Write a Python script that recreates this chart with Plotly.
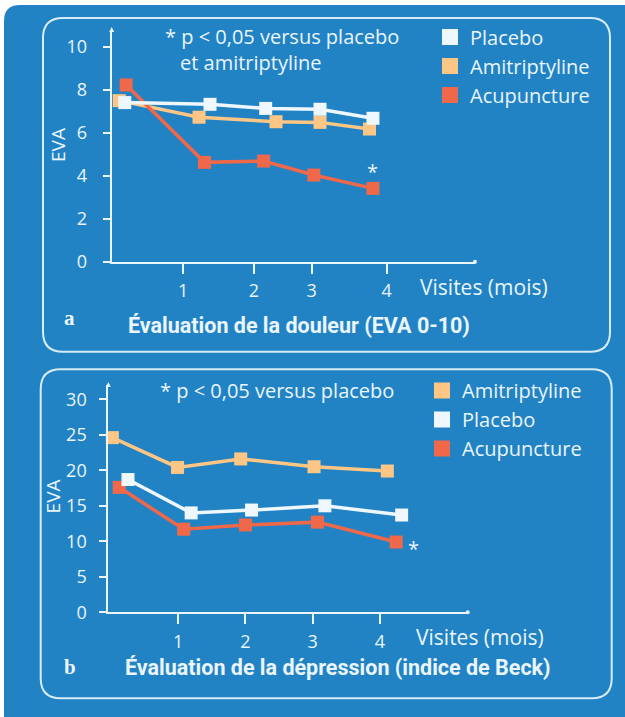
import plotly.graph_objects as go

W, H = 625, 717

# ---------------- data ----------------
tick_labels = ["1", "2", "3", "4"]

# panel a : pain (EVA 0-10)
a_tick_pos = [1.04, 2.07, 2.91, 4.0]
a_y_ticks = [0, 2, 4, 6, 8, 10]
a_placebo_x = [0.19, 1.43, 2.24, 3.03, 3.80]
a_placebo_y = [7.40, 7.32, 7.13, 7.09, 6.67]
a_amitrip_x = [0.11, 1.27, 2.39, 3.03, 3.75]
a_amitrip_y = [7.49, 6.72, 6.51, 6.48, 6.17]
a_acu_x = [0.21, 1.35, 2.21, 2.94, 3.80]
a_acu_y = [8.22, 4.62, 4.68, 4.03, 3.41]

# panel b : depression (Beck index)
b_tick_pos = [1.03, 2.02, 3.01, 4.0]
b_y_ticks = [0, 5, 10, 15, 20, 25, 30]
b_amitrip_x = [0.06, 1.02, 1.95, 3.03, 4.11]
b_amitrip_y = [24.6, 20.4, 21.6, 20.5, 19.9]
b_placebo_x = [0.29, 1.22, 2.11, 3.19, 4.32]
b_placebo_y = [18.7, 14.0, 14.4, 15.0, 13.7]
b_acu_x = [0.16, 1.11, 2.02, 3.08, 4.24]
b_acu_y = [17.6, 11.7, 12.3, 12.7, 9.9]

# ---------------- style ----------------
BLUE = "#2183C4"
LIGHT = "#EAF5FC"
C_PLA = "#EEF7FD"
C_AMI = "#FDC684"
C_ACU = "#F0684A"
FONT = "Open Sans"
TITLE_FONT = "Roboto"


def px(x):
    return x / W


def py(y):
    return 1 - y / H


fig = go.Figure()


def series(x, y, color, xa, ya):
    fig.add_trace(go.Scatter(
        x=x, y=y, mode="lines+markers", xaxis=xa, yaxis=ya,
        line=dict(color=color, width=3.5),
        marker=dict(symbol="square", size=13, color=color),
        showlegend=False, cliponaxis=False, hoverinfo="skip"))


def legend_item(name, color, legend):
    fig.add_trace(go.Scatter(
        x=[None], y=[None], mode="markers", name=name, legend=legend,
        marker=dict(symbol="square", size=16, color=color)))


# panel a traces
series(a_amitrip_x, a_amitrip_y, C_AMI, "x", "y")
series(a_acu_x, a_acu_y, C_ACU, "x", "y")
series(a_placebo_x, a_placebo_y, C_PLA, "x", "y")
legend_item("Placebo", C_PLA, "legend")
legend_item("Amitriptyline", C_AMI, "legend")
legend_item("Acupuncture", C_ACU, "legend")

# panel b traces
series(b_amitrip_x, b_amitrip_y, C_AMI, "x2", "y2")
series(b_acu_x, b_acu_y, C_ACU, "x2", "y2")
series(b_placebo_x, b_placebo_y, C_PLA, "x2", "y2")
legend_item("Amitriptyline", C_AMI, "legend2")
legend_item("Placebo", C_PLA, "legend2")
legend_item("Acupuncture", C_ACU, "legend2")

axis_common = dict(showgrid=False, zeroline=False, showline=True,
                   linecolor=LIGHT, linewidth=2, ticks="outside",
                   tickcolor=LIGHT, tickwidth=2, automargin=False,
                   tickfont=dict(family=FONT, size=18, color=LIGHT),
                   fixedrange=True)

# geometry (pixels)
a_x0, a_x1, a_unit = 111.7, 475.0, 68.75
a_y0, a_y1, a_yunit = 261.7, 30.0, 21.5
b_x0, b_x1, b_unit = 108.3, 467.7, 67.9
b_y0, b_y1, b_yunit = 612.3, 385.0, 7.1

fig.update_layout(
    width=W, height=H, autosize=False,
    margin=dict(l=0, r=0, t=0, b=0, pad=0, autoexpand=False),
    paper_bgcolor=BLUE, plot_bgcolor="rgba(0,0,0,0)",
    xaxis=dict(axis_common, domain=[px(a_x0), px(a_x1)],
               range=[0, (a_x1 - a_x0) / a_unit],
               tickvals=a_tick_pos, ticktext=tick_labels, ticklen=10,
               ticklabelstandoff=2, anchor="y"),
    yaxis=dict(axis_common, domain=[py(a_y0), py(a_y1)],
               range=[0, (a_y0 - a_y1) / a_yunit],
               tickvals=a_y_ticks, ticklen=7, ticklabelstandoff=12,
               anchor="x"),
    xaxis2=dict(axis_common, domain=[px(b_x0), px(b_x1)],
                range=[0, (b_x1 - b_x0) / b_unit],
                tickvals=b_tick_pos, ticktext=tick_labels, ticklen=10,
                ticklabelstandoff=2, anchor="y2"),
    yaxis2=dict(axis_common, domain=[py(b_y0), py(b_y1)],
                range=[0, (b_y0 - b_y1) / b_yunit],
                tickvals=b_y_ticks, ticklen=7, ticklabelstandoff=9,
                anchor="x2"),
    legend=dict(x=px(430), y=py(17.5), xanchor="left", yanchor="top",
                bgcolor="rgba(0,0,0,0)", borderwidth=0,
                font=dict(family=FONT, size=20, color=LIGHT),
                traceorder="normal", itemclick=False, itemdoubleclick=False),
    legend2=dict(x=px(422), y=py(371), xanchor="left", yanchor="top",
                 bgcolor="rgba(0,0,0,0)", borderwidth=0,
                 font=dict(family=FONT, size=20, color=LIGHT),
                 traceorder="normal", itemclick=False, itemdoubleclick=False),
)

P = lambda x, y: f"{px(x):.5f},{py(y):.5f}"


def rrect(x0, y0, x1, y1, r):
    d = f"M {P(x0 + r, y0)} L {P(x1 - r, y0)} Q {P(x1, y0)} {P(x1, y0 + r)} "
    d += f"L {P(x1, y1 - r)} Q {P(x1, y1)} {P(x1 - r, y1)} "
    d += f"L {P(x0 + r, y1)} Q {P(x0, y1)} {P(x0, y1 - r)} "
    d += f"L {P(x0, y0 + r)} Q {P(x0, y0)} {P(x0 + r, y0)} Z"
    return d


def corner_mask(x0, y0, r):
    # white area outside the rounded top-left corner of the blue page
    d = f"M {P(0, 0)} L {P(W, 0)} L {P(W, y0)} L {P(x0 + r, y0)} "
    d += f"Q {P(x0, y0)} {P(x0, y0 + r)} L {P(x0, H)} L {P(0, H)} Z"
    return d


def arrow_head(x, y):
    return f"M {P(x, y - 3)} L {P(x + 2.5, y + 2)} L {P(x - 2.5, y + 2)} Z"


shapes = [
    dict(type="path", xref="paper", yref="paper", layer="below",
         path=corner_mask(4, 5, 16), fillcolor="white", line=dict(width=0)),
    dict(type="path", xref="paper", yref="paper", layer="below",
         path=rrect(43, 18, 610, 351.7, 20),
         fillcolor="rgba(0,0,0,0)", line=dict(color="#D8ECF8", width=2)),
    dict(type="path", xref="paper", yref="paper", layer="below",
         path=rrect(40.7, 369.3, 611.7, 698.3, 20),
         fillcolor="rgba(0,0,0,0)", line=dict(color="#D8ECF8", width=2)),
    # axis end decorations
    dict(type="path", xref="paper", yref="paper", path=arrow_head(a_x0, a_y1),
         fillcolor=LIGHT, line=dict(width=0)),
    dict(type="path", xref="paper", yref="paper", path=arrow_head(b_x0, b_y1),
         fillcolor=LIGHT, line=dict(width=0)),
    dict(type="circle", xref="paper", yref="paper",
         x0=px(a_x1 - 2), x1=px(a_x1 + 2), y0=py(a_y0 + 2), y1=py(a_y0 - 2),
         fillcolor=LIGHT, line=dict(width=0)),
    dict(type="circle", xref="paper", yref="paper",
         x0=px(b_x1 - 2), x1=px(b_x1 + 2), y0=py(b_y0 + 2), y1=py(b_y0 - 2),
         fillcolor=LIGHT, line=dict(width=0)),
]
fig.update_layout(shapes=shapes)


def text(x, y, s, size=20, family=FONT, xanchor="left", angle=0, bold=False):
    fig.add_annotation(
        x=px(x), y=py(y), xref="paper", yref="paper", text=s,
        showarrow=False, xanchor=xanchor, yanchor="middle", textangle=angle,
        font=dict(family=family, size=size, color=LIGHT,
                  weight="bold" if bold else "normal"))


# panel a texts
text(163, 37, "* p < 0,05 versus placebo")
text(178, 62, "et amitriptyline")
text(418, 287, "Visites (mois)", size=21)
text(58, 145, "EVA", size=19, xanchor="center", angle=-90)
text(62, 318, "a", size=21, family="Liberation Serif", bold=True)
text(126, 325, "Évaluation de la douleur (EVA 0-10)", size=21.5,
     family=TITLE_FONT, bold=True)

# panel b texts
text(158, 390.7, "* p < 0,05 versus placebo")
text(414, 636.7, "Visites (mois)", size=21)
text(52.7, 496.7, "EVA", size=19, xanchor="center", angle=-90)
text(62, 667, "b", size=21, family="Liberation Serif", bold=True)
text(123, 667, "Évaluation de la dépression (indice de Beck)", size=21.5,
     family=TITLE_FONT, bold=True)

# significance asterisks attached to the last acupuncture points
fig.add_annotation(x=a_acu_x[-1], y=a_acu_y[-1], xref="x", yref="y",
                   text="*", showarrow=False, yshift=17,
                   font=dict(family=FONT, size=20, color=LIGHT))
fig.add_annotation(x=b_acu_x[-1], y=b_acu_y[-1], xref="x2", yref="y2",
                   text="*", showarrow=False, xshift=17, yshift=-6,
                   font=dict(family=FONT, size=20, color=LIGHT))

post = """
var de = document.documentElement, b = document.body;
de.style.margin = '0'; de.style.overflow = 'hidden';
b.style.margin = '0'; b.style.overflow = 'hidden';
b.style.background = '%s';
""" % BLUE

fig.write_html(
    "out.html",
    config={"responsive": False, "displayModeBar": False, "staticPlot": True},
    post_script=post,
)
